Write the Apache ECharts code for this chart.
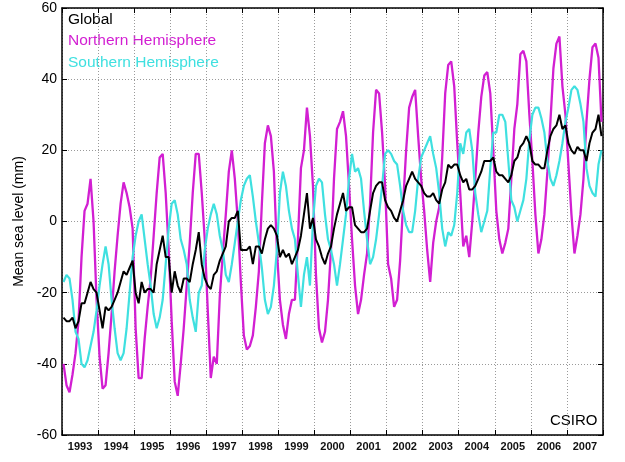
<!DOCTYPE html>
<html><head><meta charset="utf-8">
<script src="https://cdn.jsdelivr.net/npm/echarts@6/dist/echarts.min.js"></script>
<style>html,body{margin:0;padding:0;background:#fff}#c{width:625px;height:462px}</style>
</head><body><div id="c"></div>
<script>
// Monthly values, Jan 1993 .. Dec 2007 (mm)
const startYear = 1993;
const yearLabels = ['1993','1994','1995','1996','1997','1998','1999','2000','2001','2002','2003','2004','2005','2006','2007'];
const northern = [
 -40,-46,-48,-43,-37,-28,-10,3,5,12,0,-22,
 -38,-47,-46,-37,-26,-14,-4,5,11,8,4,-2,
 -30,-44,-44,-33,-24,-16,-4,8,18,19,8,-8,
 -28,-45,-49,-40,-30,-18,-6,8,19,19,8,-5,
 -25,-44,-38,-40,-21,-9,2,14,20,12,0,-17,
 -32,-36,-35,-32,-24,-14,5,22,27,24,14,-8,
 -22,-29,-33,-26,-22,-22,-5,15,20,32,24,10,
 -15,-30,-34,-31,-22,-8,12,26,28,31,24,10,
 -5,-18,-26,-22,-15,-9,5,25,37,36,25,10,
 -12,-16,-24,-22,-11,5,20,32,35,37,24,12,
 3,-8,-17,-6,0,4,18,36,44,45,38,22,
 8,-7,-4,-10,0,12,25,35,41,42,36,20,
 3,-5,-9,-6,-2,12,26,33,47,48,45,30,
 17,2,-9,-5,2,14,28,43,50,52,38,30,
 16,2,-9,-4,2,12,28,40,49,50,46,28
];
const southern = [
 -17,-15,-16,-22,-31,-33,-40,-41,-39,-35,-31,-25,
 -18,-12,-7,-12,-22,-30,-37,-39,-37,-30,-20,-10,
 -4,0,2,-5,-12,-18,-26,-30,-27,-22,-12,-2,
 5,6,2,-5,-8,-12,-22,-27,-31,-20,-18,-8,
 -2,2,5,2,-4,-8,-15,-17,-12,-6,0,6,
 10,12,13,7,0,-6,-13,-22,-26,-24,-18,-8,
 8,14,10,3,-2,-5,-15,-24,-15,-10,-18,0,
 10,12,11,2,-5,-8,-12,-18,-12,-5,2,12,
 19,14,15,12,3,-5,-12,-10,-5,2,10,19,
 20,19,17,16,10,3,-1,-3,-3,3,12,18,
 20,22,24,19,15,8,-2,-7,-3,-4,-1,8,
 22,19,25,26,20,8,2,-3,0,3,15,25,
 25,30,30,28,17,6,4,0,3,6,12,23,
 30,32,32,29,25,17,12,10,13,17,22,28,
 32,37,38,37,33,28,15,10,8,7,16,20
];
const globalMean = [
 -27,-28,-28,-27,-30,-28,-23,-23,-20,-17,-19,-20,
 -25,-30,-24,-25,-24,-22,-20,-17,-14,-15,-13,-11,
 -20,-23,-17,-20,-19,-19,-20,-12,-8,-4,-10,-10,
 -20,-14,-18,-20,-16,-16,-17,-12,-8,-3,-12,-16,
 -18,-19,-15,-14,-11,-9,-7,0,1,1,3,-8,
 -8,-8,-7,-12,-7,-7,-9,-5,-2,-1,-2,-4,
 -10,-8,-10,-9,-12,-10,-8,-4,2,8,-2,1,
 -5,-7,-10,-12,-9,-7,-2,2,5,8,3,4,
 4,-1,-2,-3,-3,-2,3,8,10,11,11,6,
 4,3,1,0,3,6,10,12,14,12,11,10,
 8,7,7,8,6,5,9,11,16,15,16,16,
 13,11,12,9,9,10,12,14,17,17,17,18,
 14,13,13,12,11,13,17,18,21,22,24,22,
 17,16,16,15,15,20,24,26,27,30,26,27,
 22,20,19,21,20,20,17,22,25,26,30,24
];
const legendNames = ['Global','Northern Hemisphere','Southern Hemisphere'];
const colors = ['#000000','#d21fd2','#3fe0e0'];

function pairs(vals){
  return vals.map((v,i)=>[startYear + (i+0.5)/12, v]);
}

const chart = echarts.init(document.getElementById('c'), null, {renderer:'canvas'});
const font = 'Liberation Sans, Arial, Helvetica, sans-serif';
const dotted = {show:true, lineStyle:{color:'#9a9a9a', type:[1,2], width:1}};
chart.setOption({
  animation:false,
  backgroundColor:'#fff',
  grid:{left:62, right:22, top:8, bottom:27, containLabel:false},
  xAxis:[
    {type:'value', min:1993, max:2008, interval:1, position:'bottom',
     axisLine:{show:true, onZero:false, lineStyle:{color:'#000', width:1.5}},
     axisTick:{show:true, inside:true, length:5, lineStyle:{color:'#000'}},
     axisLabel:{show:false}, splitLine:dotted},
    {type:'category', data:yearLabels, boundaryGap:true, position:'bottom',
     axisLine:{show:false}, axisTick:{show:false}, splitLine:{show:false},
     axisLabel:{show:true, margin:6, fontSize:11, fontWeight:'bold', color:'#111', fontFamily:font}},
    {type:'value', min:1993, max:2008, interval:1, position:'top',
     axisLine:{show:true, onZero:false, lineStyle:{color:'#000', width:1.5}},
     axisTick:{show:true, inside:true, length:5, lineStyle:{color:'#000'}},
     axisLabel:{show:false}, splitLine:{show:false}}
  ],
  yAxis:[
    {type:'value', min:-60, max:60, interval:20, position:'left',
     name:'Mean sea level (mm)', nameLocation:'middle', nameGap:32,
     nameTextStyle:{fontSize:14, color:'#000', fontFamily:font},
     axisLine:{show:true, onZero:false, lineStyle:{color:'#000', width:1.5}},
     axisTick:{show:true, inside:true, length:5, lineStyle:{color:'#000'}},
     axisLabel:{fontSize:14, color:'#000', margin:5, fontFamily:font},
     splitLine:dotted},
    {type:'value', min:-60, max:60, interval:20, position:'right',
     axisLine:{show:true, onZero:false, lineStyle:{color:'#000', width:1.5}},
     axisTick:{show:true, inside:true, length:5, lineStyle:{color:'#000'}},
     axisLabel:{show:false}, splitLine:{show:false}}
  ],
  series:[
    {name:legendNames[1], type:'line', data:pairs(northern), xAxisIndex:0, yAxisIndex:0,
     showSymbol:false, lineStyle:{color:colors[1], width:2.3}, z:2},
    {name:legendNames[2], type:'line', data:pairs(southern), xAxisIndex:0, yAxisIndex:0,
     showSymbol:false, lineStyle:{color:colors[2], width:2.2}, z:3},
    {name:legendNames[0], type:'line', data:pairs(globalMean), xAxisIndex:0, yAxisIndex:0,
     showSymbol:false, lineStyle:{color:colors[0], width:2}, z:4}
  ],
  graphic:[
    {type:'text', left:68, top:12, style:{text:legendNames[0], fill:colors[0], font:'15.5px '+font}},
    {type:'text', left:68, top:33, style:{text:legendNames[1], fill:colors[1], font:'15.5px '+font}},
    {type:'text', left:68, top:55, style:{text:legendNames[2], fill:colors[2], font:'15.5px '+font}},
    {type:'text', left:550, top:413, style:{text:'CSIRO', fill:'#000', font:'15px '+font}}
  ]
});
</script></body></html>
